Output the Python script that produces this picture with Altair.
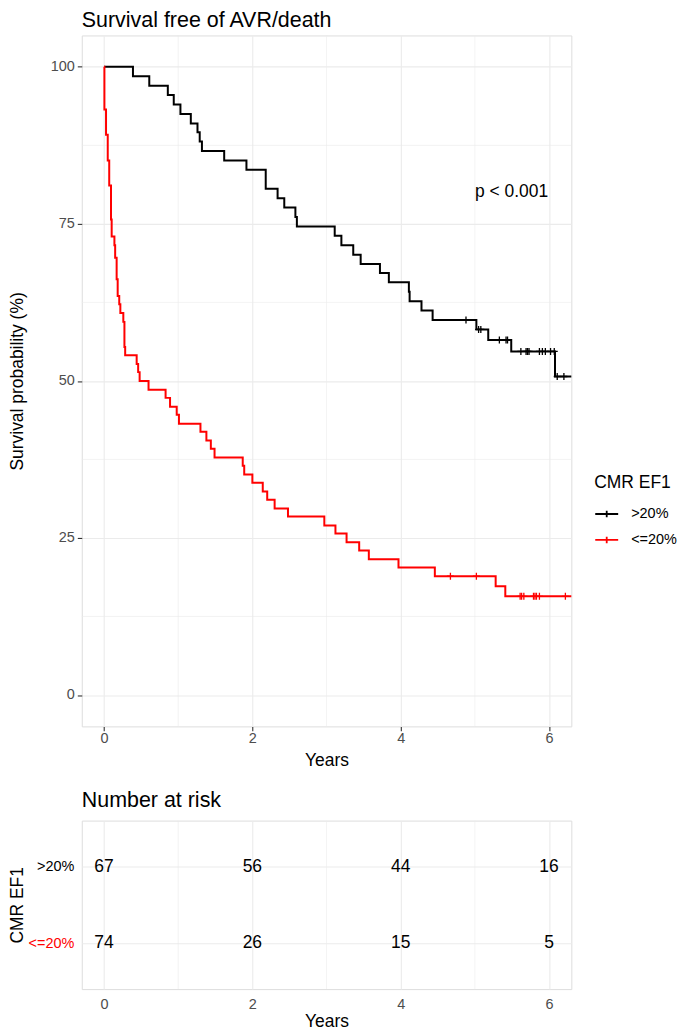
import altair as alt
import pandas as pd

FONT = "Liberation Sans"
GRID = "#EBEBEB"
TICK = "#333333"
LABEL = "#4D4D4D"

# ---------------- data ----------------
groups = [">20%", "<=20%"]
group_colors = ["#000000", "#FF0000"]

# >20% group: step times (years) and survival (%) after each step
hi_times = [0, 0.39, 0.61, 0.86, 0.94, 1.03, 1.17, 1.26, 1.29, 1.32, 1.62, 1.92,
            2.18, 2.34, 2.43, 2.58, 2.60, 3.11, 3.20, 3.36, 3.46, 3.72, 3.84,
            4.11, 4.12, 4.28, 4.43, 5.02, 5.18, 5.49, 6.08, 6.30]
hi_surv = [100, 98.5, 97.0, 95.5, 94.0, 92.5, 91.0, 89.6, 88.1, 86.6, 85.1, 83.6,
           80.6, 79.1, 77.6, 76.1, 74.6, 73.1, 71.6, 70.1, 68.6, 67.2, 65.7,
           64.2, 62.7, 61.2, 59.7, 58.2, 56.5, 54.7, 50.7, 50.7]
hi_cens_t = [4.88, 5.05, 5.08, 5.33, 5.42, 5.44, 5.62, 5.69, 5.71, 5.73, 5.87,
             5.91, 5.95, 6.02, 6.07, 6.11, 6.20]
hi_cens_s = [59.7, 58.2, 58.2, 56.5, 56.5, 56.5, 54.7, 54.7, 54.7, 54.7, 54.7,
             54.7, 54.7, 54.7, 54.7, 50.7, 50.7]

# <=20% group
lo_times = [0, 0.005, 0.027, 0.05, 0.07, 0.094, 0.103, 0.14, 0.15, 0.17, 0.184,
            0.205, 0.22, 0.26, 0.275, 0.285, 0.44, 0.46, 0.48, 0.60, 0.83, 0.89,
            0.98, 1.01, 1.30, 1.38, 1.44, 1.49, 1.87, 1.89, 2.00, 2.14, 2.20,
            2.30, 2.48, 2.97, 3.12, 3.27, 3.44, 3.57, 3.97, 4.46, 5.28, 5.41, 6.30]
lo_surv = [100, 93.2, 89.2, 85.1, 81.1, 75.7, 73.0, 71.6, 69.6, 66.2, 63.5,
           62.2, 60.8, 59.4, 55.4, 54.1, 52.7, 51.4, 50.0, 48.6, 47.3, 45.9,
           44.6, 43.2, 41.9, 40.5, 39.2, 37.8, 36.5, 35.1, 33.8, 32.4, 31.1,
           29.7, 28.4, 27.0, 25.7, 24.3, 23.0, 21.6, 20.3, 18.9, 17.3, 15.7, 15.7]
lo_cens_t = [4.67, 5.02, 5.61, 5.63, 5.66, 5.79, 5.81, 5.83, 5.87, 6.22]
lo_cens_s = [18.9, 18.9, 15.7, 15.7, 15.7, 15.7, 15.7, 15.7, 15.7, 15.7]

pval_text = ["p < 0.001"]
pval_t = [5.0]
pval_s = [80]

risk_times = [0, 2, 4, 6]
risk_hi = [67, 56, 44, 16]
risk_lo = [74, 26, 15, 5]

major_x = [0, 2, 4, 6]
major_y = [0, 25, 50, 75, 100]
minor_x = [1, 3, 5]
minor_y = [12.5, 37.5, 62.5, 87.5]

# ---------------- tables ----------------
curves = pd.concat([
    pd.DataFrame({"t": hi_times, "s": hi_surv, "g": groups[0]}),
    pd.DataFrame({"t": lo_times, "s": lo_surv, "g": groups[1]}),
])
cens = pd.concat([
    pd.DataFrame({"t": hi_cens_t, "s": hi_cens_s, "g": groups[0]}),
    pd.DataFrame({"t": lo_cens_t, "s": lo_cens_s, "g": groups[1]}),
])
pval = pd.DataFrame({"t": pval_t, "s": pval_s, "label": pval_text})
risk = pd.concat([
    pd.DataFrame({"t": risk_times, "n": risk_hi, "g": groups[0]}),
    pd.DataFrame({"t": risk_times, "n": risk_lo, "g": groups[1]}),
])

# ---------------- scales / axes ----------------
xscale = alt.Scale(domain=[-0.3, 6.3], nice=False, zero=False)
yscale = alt.Scale(domain=[-5, 105], nice=False, zero=False)

common_axis = dict(
    domain=False, gridColor=GRID, gridWidth=1.1,
    labelFont=FONT, labelFontSize=14.5, labelColor=LABEL,
    titleFont=FONT, titleFontSize=17.5, titleFontWeight="normal", titleColor="#000000",
)

x_main = alt.X("t:Q", scale=xscale, axis=alt.Axis(
    values=major_x, title="Years", grid=True, ticks=True, tickColor=TICK,
    tickSize=4.5, tickWidth=1.1, labelPadding=0.5, titlePadding=6.6, format="d",
    **common_axis))
y_main = alt.Y("s:Q", scale=yscale, axis=alt.Axis(
    values=major_y, title="Survival probability (%)", grid=True, ticks=True,
    tickColor=TICK, tickSize=4.5, tickWidth=1.1, labelPadding=3, titlePadding=23.3,
    format="d", **common_axis))

color = alt.Color("g:N", scale=alt.Scale(domain=groups, range=group_colors),
                  legend=alt.Legend(
                      title="CMR EF1", orient="none", legendX=514, legendY=440,
                      symbolType="M-1,0L1,0M0,-0.28L0,0.28", symbolSize=529,
                      symbolStrokeWidth=1.8, labelFont=FONT, labelFontSize=14.5,
                      labelColor="#000000", labelOffset=12, rowPadding=6,
                      titleFont=FONT, titleFontSize=17.5, titleFontWeight="normal",
                      titleColor="#000000", titlePadding=10))

minor_xrule = alt.Chart(pd.DataFrame({"t": minor_x})).mark_rule(
    color=GRID, strokeWidth=0.6).encode(x=x_main)
minor_yrule = alt.Chart(pd.DataFrame({"s": minor_y})).mark_rule(
    color=GRID, strokeWidth=0.6).encode(y=y_main)

lines = alt.Chart(curves).mark_line(interpolate="step-after", strokeWidth=2).encode(
    x=x_main, y=y_main, color=color, detail="g:N")
cross = alt.Chart(cens).mark_point(
    shape="M-1,0L1,0M0,-1L0,1", size=49, filled=False, strokeWidth=1.3, opacity=1
).encode(x=x_main, y=y_main, color=color)
ptext = alt.Chart(pval).mark_text(
    align="left", baseline="middle", font=FONT, fontSize=17.5, color="#000000"
).encode(x=x_main, y=y_main, text="label:N")

main = alt.layer(minor_xrule, minor_yrule, lines, cross, ptext).properties(
    width=491, height=693,
    title=alt.TitleParams("Survival free of AVR/death", anchor="start", frame="group",
                          font=FONT, fontSize=21.5, fontWeight="normal",
                          color="#000000", offset=3.5),
)

# ---------------- risk table ----------------
x_risk = alt.X("t:Q", scale=xscale, axis=alt.Axis(
    values=major_x, title="Years", grid=True, ticks=False, labelPadding=8.6,
    titlePadding=1.9, format="d", **common_axis))
y_risk = alt.Y("g:N", sort=groups,
               scale=alt.Scale(type="point", domain=groups, padding=0.6),
               axis=alt.Axis(title="CMR EF1", grid=True, ticks=False, labelPadding=8,
                             titlePadding=1, domain=False, gridColor=GRID, gridWidth=1.1,
                             labelFont=FONT, labelFontSize=14.5,
                             labelColor={"condition": {"test": "datum.value === '<=20%'",
                                                       "value": "#FF0000"},
                                         "value": "#000000"},
                             titleFont=FONT, titleFontSize=17.5,
                             titleFontWeight="normal", titleColor="#000000"))

risk_minor = alt.Chart(pd.DataFrame({"t": minor_x})).mark_rule(
    color=GRID, strokeWidth=0.6).encode(x=x_risk)
risk_text = alt.Chart(risk).mark_text(
    font=FONT, fontSize=17.5, color="#000000", baseline="middle"
).encode(x=x_risk, y=y_risk, text="n:Q")

risk_chart = alt.layer(risk_minor, risk_text).properties(
    width=491, height=169,
    title=alt.TitleParams("Number at risk", anchor="start", frame="group",
                          font=FONT, fontSize=21.5, fontWeight="normal",
                          color="#000000", offset=8.8),
)

chart = alt.vconcat(main, risk_chart, spacing=18.5).properties(
    padding={"left": 0, "top": 0, "right": 0, "bottom": 0}
).configure_view(stroke=None).configure(font=FONT)

chart.save("out.html", embed_options={"renderer": "svg", "actions": False})
